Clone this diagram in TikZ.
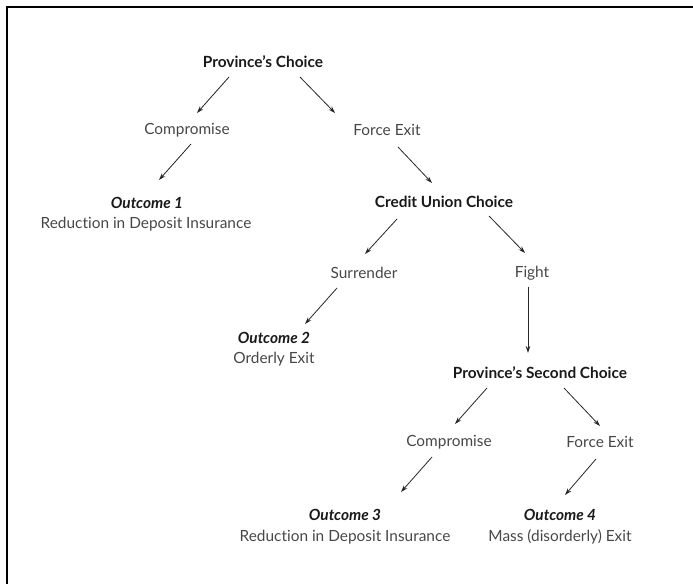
\documentclass[tikz,border=0pt]{standalone}
\usepackage{fontspec}
\setmainfont{Lato}[Ligatures={TeX,NoCommon}]
\setsansfont{Lato}[Ligatures={TeX,NoCommon}]
\usepackage{tikz}
\usetikzlibrary{arrows.meta, calc}
\tikzset{every picture/.style={/utils/exec={\sffamily}}}
\definecolor{movegray}{gray}{0.28}

\begin{document}
\begin{tikzpicture}[x=1pt, y=-1pt, >={Stealth[length=7pt, width=4.5pt]},
        every node/.style={font=\fontsize{15.4}{18}\selectfont, inner sep=0pt},
        choice/.style={font=\fontsize{15.4}{18}\selectfont\bfseries, text=black!90},
        move/.style={text=movegray},
        outcome/.style={font=\fontsize{15.4}{18}\selectfont\bfseries\itshape, text=black!90},
        arr/.style={->, line width=0.8pt, black!85}]
        \useasboundingbox (0,0) rectangle (693,584);
        % Frame
        \draw[line width=1.6pt] (7,584) -- (7,7) -- (693,7);

        % Nodes
        \node[choice] (P1) at (263, 62) {Province's Choice};
        \node[move] (C1) at (187, 130) {Compromise};
        \node[move] (F1) at (387, 130) {Force Exit};
        \node[outcome] (O1) at (147, 203) {Outcome 1};
        \node[move] (O1d) at (146, 224) {Reduction in Deposit Insurance};
        \node[choice] (CU) at (444, 202) {Credit Union Choice};
        \node[move] (S) at (364, 273) {Surrender};
        \node[move] (Fi) at (532, 273) {Fight};
        \node[outcome] (O2) at (274, 338) {Outcome 2};
        \node[move] (O2d) at (274, 359) {Orderly Exit};
        \node[choice] (P2) at (540, 373) {Province's Second Choice};
        \node[move] (C2) at (449, 442) {Compromise};
        \node[move] (F2) at (600, 442) {Force Exit};
        \node[outcome] (O3) at (345, 515) {Outcome 3};
        \node[move] (O3d) at (345, 537) {Reduction in Deposit Insurance};
        \node[outcome] (O4) at (560, 515) {Outcome 4};
        \node[move] (O4d) at (560, 537) {Mass (disorderly) Exit};

        % Directed edges
        \draw[arr] ($(P1)+(-34,15)$) -- ($(C1)+(10,-17)$);
        \draw[arr] ($(P1)+(37,15)$) -- ($(F1)+(-52,-17)$);
        \draw[arr] ($(C1)+(4,14)$) -- ($(O1)+(12,-23)$);
        \draw[arr] ($(F1)+(11,17)$) -- ($(CU)+(-12,-19)$);
        \draw[arr] ($(CU)+(-47,17)$) -- ($(S)+(1,-19)$);
        \draw[arr] ($(CU)+(45,14)$) -- ($(Fi)+(-7,-20)$);
        \draw[arr] ($(S)+(-27,15)$) -- ($(O2)+(31,-14)$);
        \draw[arr] ($(Fi)+(-4,14)$) -- ($(P2)+(-12,-20)$);
        \draw[arr] ($(P2)+(-53,15)$) -- ($(C2)+(6,-18)$);
        \draw[arr] ($(P2)+(24,15)$) -- ($(F2)+(0,-16)$);
        \draw[arr] ($(C2)+(-17,15)$) -- ($(O3)+(56,-23)$);
        \draw[arr] ($(F2)+(-4,17)$) -- ($(O4)+(5,-20)$);
\end{tikzpicture}
\end{document}
